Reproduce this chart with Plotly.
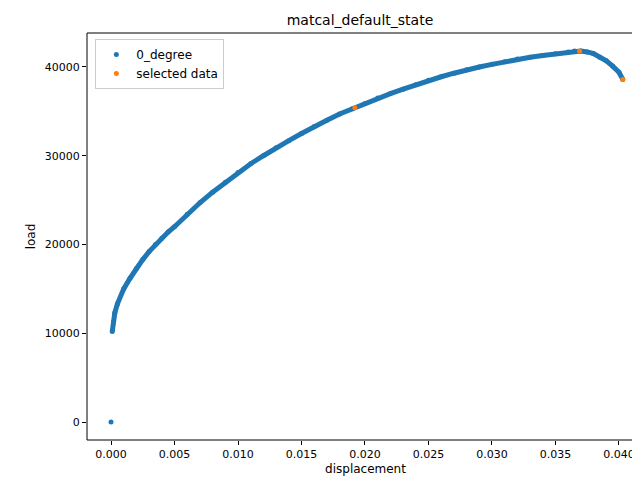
import plotly.graph_objects as go

disp = [0.0, 0.0001, 0.0002, 0.0003, 0.0005, 0.001, 0.0015, 0.002, 0.0025, 0.003, 0.0035, 0.004, 0.0045,
        0.005, 0.006, 0.007, 0.008, 0.009, 0.010, 0.011, 0.012, 0.013, 0.014, 0.015, 0.016, 0.017,
        0.018, 0.019, 0.020, 0.021, 0.022, 0.023, 0.024, 0.025, 0.026, 0.027, 0.028, 0.029, 0.030,
        0.031, 0.032, 0.033, 0.034, 0.035, 0.036, 0.0365, 0.037, 0.0375, 0.038, 0.0385, 0.039,
        0.0395, 0.040, 0.0403]
load = [0, 10200, 11300, 12300, 13300, 15000, 16200, 17300, 18300, 19200, 20000, 20700, 21400,
        22000, 23400, 24700, 25900, 27000, 28100, 29100, 30000, 30900, 31700, 32500, 33300, 34000,
        34700, 35300, 35900, 36500, 37000, 37500, 38000, 38500, 38900, 39300, 39700, 40000, 40300,
        40600, 40900, 41100, 41300, 41500, 41700, 41800, 41800, 41700, 41500, 41100, 40700,
        40100, 39400, 38600]
sel_disp = [0.0192, 0.0369, 0.0403]
sel_load = [35400, 41800, 38600]

blue = "#1f77b4"
orange = "#ff7f0e"
fig = go.Figure()
fig.add_trace(go.Scatter(x=disp[1:], y=load[1:], mode="lines+markers", name="0_degree",
                         line=dict(color=blue, width=5), marker=dict(color=blue, size=5),
                         showlegend=False))
fig.add_trace(go.Scatter(x=disp[:1], y=load[:1], mode="markers", name="0_degree",
                         marker=dict(color=blue, size=5)))
fig.add_trace(go.Scatter(x=sel_disp, y=sel_load, mode="markers", name="selected data",
                         marker=dict(color=orange, size=5)))

axis = dict(showgrid=False, zeroline=False, showline=False, automargin=False,
            ticks="outside", ticklen=4, tickcolor="black",
            tickfont=dict(family="DejaVu Sans", size=11, color="black"))
fig.update_layout(
    width=640, height=480, plot_bgcolor="white", paper_bgcolor="white",
    margin=dict(l=79, r=4, t=25, b=48, autoexpand=False),
    title=dict(text="matcal_default_state", x=0.55, xanchor="center", y=0.985, yanchor="top",
               font=dict(family="DejaVu Sans", size=14, color="black")),
    xaxis=dict(axis, range=[-0.00189, 0.04197], tickvals=[0, 0.005, 0.01, 0.015, 0.02, 0.025, 0.03, 0.035, 0.04],
               tickformat=".3f", title=dict(text="displacement", font=dict(family="DejaVu Sans", size=12, color="black"), standoff=4)),
    yaxis=dict(axis, range=[-2028, 43830], tickvals=[0, 10000, 20000, 30000, 40000], tickformat="d",
               title=dict(text="load", font=dict(family="DejaVu Sans", size=12, color="black"), standoff=6)),
    legend=dict(x=0.015, y=0.985, xanchor="left", yanchor="top", bgcolor="white",
                bordercolor="#cccccc", borderwidth=1, font=dict(family="DejaVu Sans", size=12, color="black")),
    shapes=[dict(type="rect", xref="paper", yref="paper", x0=0, y0=0, x1=1, y1=1,
                 line=dict(color="black", width=1), layer="above")],
)
fig.write_html("out.html")
